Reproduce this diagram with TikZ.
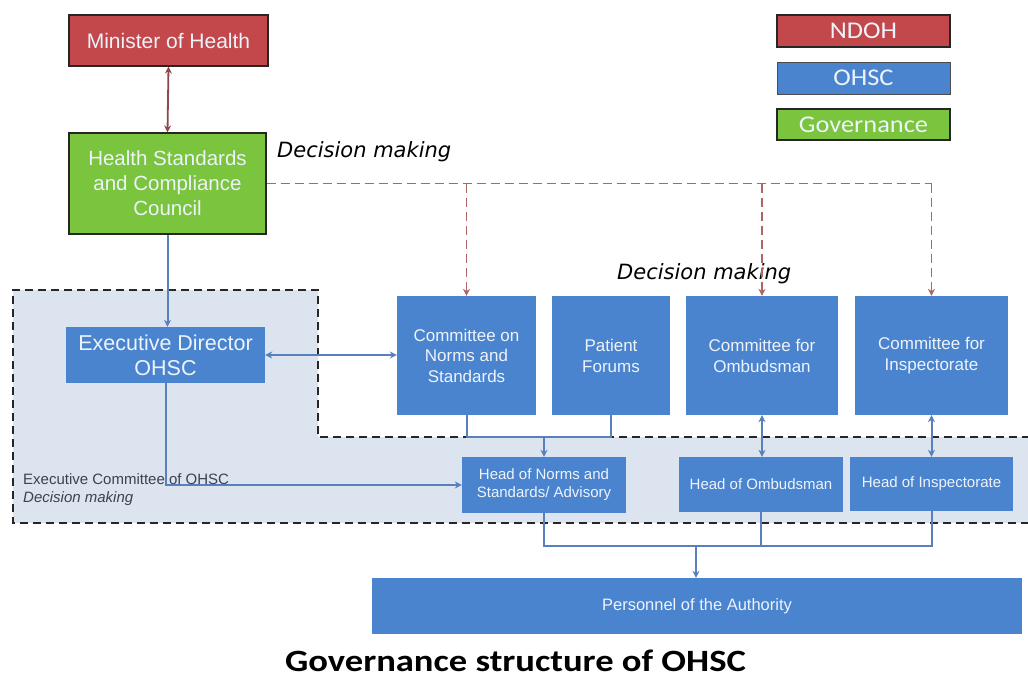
\documentclass[tikz,border=0pt]{standalone}
\usepackage{fontspec}
\setmainfont{Liberation Sans}
\newfontfamily\legendfont[FakeStretch=1.1]{Carlito}
\newfontfamily\capfont[FakeStretch=1.18]{Carlito}
\newfontfamily\notefont{DejaVu Sans}
\usetikzlibrary{arrows.meta}

\definecolor{ndohred}{HTML}{C3484B}
\definecolor{ohscblue}{HTML}{4A84CF}
\definecolor{govgreen}{HTML}{7AC43E}
\definecolor{shadearea}{HTML}{DCE4EF}
\definecolor{linkblue}{HTML}{5A80BC}
\definecolor{dashred}{HTML}{AD6662}
\definecolor{ministerlink}{HTML}{8E4848}
\definecolor{boxtext}{HTML}{EEF3FA}
\definecolor{notetext}{HTML}{3C4250}

\tikzset{
  box/.style={inner sep=0pt, align=center, text=boxtext},
  ohscbox/.style={box, fill=ohscblue},
  ndohbox/.style={box, fill=ndohred, draw=black!85, line width=1.2pt},
  govbox/.style={box, fill=govgreen, draw=black!85, line width=1.2pt},
  link/.style={draw=linkblue, line width=2pt},
  tip/.style={-{Stealth[length=7pt,width=7pt]}},
  dtip/.style={{Stealth[length=7pt,width=7pt]}-{Stealth[length=7pt,width=7pt]}},
  reddash/.style={draw=dashred, line width=1.7pt, dash pattern=on 9pt off 5pt},
  regionborder/.style={draw=black!85, line width=2pt, dash pattern=on 8pt off 5pt},
  boxfont/.style 2 args={font=\fontsize{#1}{#2}\selectfont},
  legendtext/.style={font=\legendfont\fontsize{24}{26}\selectfont},
}

\begin{document}
\begin{tikzpicture}[x=1pt, y=-1pt]
\useasboundingbox (0,0) rectangle (1028,677);
\fill[white] (0,0) rectangle (1028,677);

% shaded executive committee area
\fill[shadearea] (13,290) -- (318,290) -- (318,437) -- (1030,437) -- (1030,523) -- (13,523) -- cycle;
\draw[regionborder] (1030,437) -- (318,437) -- (318,290) -- (13,290) -- (13,523) -- (1030,523);

% legend
\node[ndohbox, minimum width=173pt, minimum height=32pt, legendtext] (lgndoh) at (863.5,31) {NDOH};
\node[ohscbox, draw=black!70, line width=0.8pt, minimum width=173pt, minimum height=32pt, legendtext] (lgohsc) at (863.5,78) {OHSC};
\node[govbox, minimum width=173pt, minimum height=31pt, legendtext] (lggov) at (863.5,124.5) {Governance};

% governance and ministry
\node[ndohbox, minimum width=199pt, minimum height=51pt, boxfont={21}{25}] (minister) at (168.5,40.5) {Minister of Health};
\node[govbox, minimum width=197pt, minimum height=101pt, boxfont={20.5}{25}] (hscc) at (167.5,183.5) {Health Standards\\and Compliance\\Council};

% OHSC boxes
\node[ohscbox, minimum width=199pt, minimum height=56pt, boxfont={21.5}{25}] (ed) at (165.5,355) {Executive Director\\OHSC};
\node[ohscbox, minimum width=139pt, minimum height=119pt, boxfont={17}{20.5}] (cns) at (466.5,355.5) {Committee on\\Norms and\\Standards};
\node[ohscbox, minimum width=118pt, minimum height=119pt, boxfont={17}{21}] (pf) at (611,355.5) {Patient\\Forums};
\node[ohscbox, minimum width=152pt, minimum height=119pt, boxfont={17}{21}] (cfo) at (762,355.5) {Committee for\\Ombudsman};
\node[ohscbox, minimum width=153pt, minimum height=119pt, boxfont={17}{21}] (cfi) at (931.5,355.5) {Committee for\\Inspectorate};

\node[ohscbox, minimum width=164pt, minimum height=56pt, boxfont={15}{18}] (hns) at (544,485) {Head of Norms and\\Standards/ Advisory};
\node[ohscbox, minimum width=164pt, minimum height=55pt, boxfont={15}{18}] (hom) at (761,484.5) {Head of Ombudsman};
\node[ohscbox, minimum width=163pt, minimum height=54pt, boxfont={15}{18}] (hin) at (931.5,484) {Head of Inspectorate};

\node[ohscbox, minimum width=650pt, minimum height=56pt, boxfont={16.5}{18}] (pers) at (697,606) {Personnel of the Authority};

% labels
\node[anchor=west, inner sep=0pt, font=\notefont\itshape\fontsize{21}{24}\selectfont] (dm1) at (277,152) {Decision making};
\node[anchor=west, inner sep=0pt, font=\notefont\itshape\fontsize{21}{24}\selectfont] (dm2) at (617,274) {Decision making};
\node[anchor=north west, inner sep=0pt, align=left, text=notetext, font=\fontsize{15}{18}\selectfont] (exc) at (23,473) {Executive Committee of OHSC\\\textit{Decision making}};
\node[anchor=base, inner sep=0pt, font=\capfont\bfseries\fontsize{31}{32}\selectfont] (cap) at (515.5,671) {Governance structure of OHSC};

% connectors
\draw[ministerlink, line width=1.8pt, dtip] (minister.south) -- (hscc.north);
\draw[link, tip] (hscc.south) -- (hscc.south |- ed.north);
\draw[link, dtip] (ed.east) -- (ed.east -| cns.west);

\coordinate (top) at (cfi.north |- hscc.east);
\draw[reddash] (hscc.east) -- (top);
\draw[reddash, tip] (top) -- (cfi.north);
\draw[reddash, tip] (cns.north |- hscc.east) -- (cns.north);
\draw[reddash, tip] (cfo.north |- hscc.east) -- (cfo.north);

\coordinate (jn) at (544,437);
\draw[link] (cns.south) |- (jn) -| (pf.south);
\draw[link, tip] (jn) -- (hns.north);
\draw[link, tip] (ed.south) |- (hns.west);

\draw[link, dtip] (cfo.south) -- (cfo.south |- hom.north);
\draw[link, dtip] (cfi.south) -- (cfi.south |- hin.north);

\coordinate (jb) at (696,546);
\draw[link] (hns.south) |- (hin.south |- jb) -- (hin.south);
\draw[link] (hom.south) -- (hom.south |- jb);
\draw[link, tip] (jb) -- (jb |- pers.north);
\end{tikzpicture}
\end{document}
